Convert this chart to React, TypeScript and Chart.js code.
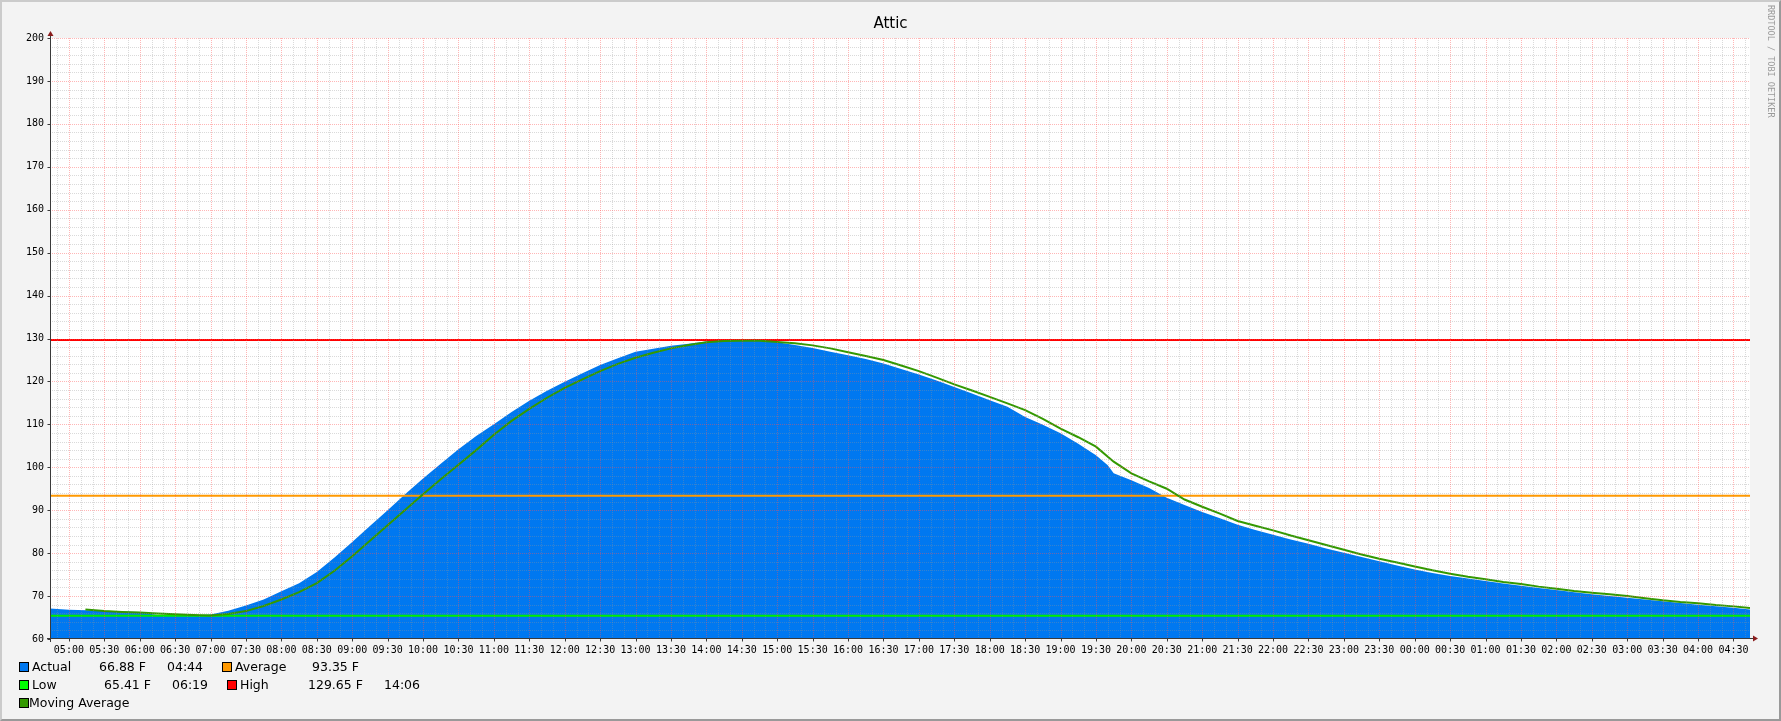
import React, { useEffect, useRef } from "react";
import { Chart, registerables } from "chart.js";

Chart.register(...registerables);

// ---------- data ----------
const actualTimes = [
  "04:44", "05:00", "05:15", "05:30", "05:45", "06:00", "06:15", "06:19", "06:30", "06:45",
  "07:00", "07:15", "07:30", "07:45", "08:00", "08:15", "08:30", "08:45", "09:00", "09:15",
  "09:30", "09:45", "10:00", "10:15", "10:30", "10:45", "11:00", "11:15", "11:30", "11:45",
  "12:00", "12:15", "12:30", "12:45", "13:00", "13:15", "13:30", "13:45", "14:00", "14:06",
  "14:15", "14:30", "14:45", "15:00", "15:15", "15:30", "15:45", "16:00", "16:15", "16:30",
  "16:45", "17:00", "17:15", "17:30", "17:45", "18:00", "18:15", "18:30", "18:45", "19:00",
  "19:15", "19:30", "19:40", "19:45", "20:00", "20:15", "20:30", "20:45", "21:00", "21:15",
  "21:30", "21:45", "22:00", "22:15", "22:30", "22:45", "23:00", "23:15", "23:30", "23:45",
  "00:00", "00:15", "00:30", "00:45", "01:00", "01:15", "01:30", "01:45", "02:00", "02:15",
  "02:30", "02:45", "03:00", "03:15", "03:30", "03:45", "04:00", "04:15", "04:30", "04:44",
];
const actualValues = [
  67.1, 66.8, 66.7, 66.6, 66.4, 66.3, 65.6, 65.41, 65.5, 65.5,
  65.7, 66.6, 67.8, 69.2, 71.1, 73.0, 75.6, 79.0, 82.6, 86.3,
  90.0, 93.8, 97.4, 100.8, 104.2, 107.3, 110.0, 112.9, 115.5, 117.8,
  119.9, 121.9, 123.8, 125.4, 126.9, 127.6, 128.3, 128.8, 129.3, 129.65,
  129.6, 129.5, 129.4, 129.1, 128.5, 127.8, 126.9, 126.1, 125.2, 124.2,
  122.9, 121.6, 120.2, 118.7, 117.2, 115.6, 114.1, 111.7, 109.9, 107.9,
  105.5, 102.8, 100.5, 98.6, 97.0, 95.2, 92.9, 91.2, 89.6, 88.1,
  86.6, 85.4, 84.3, 83.2, 82.2, 81.1, 80.1, 79.1, 78.1, 77.1,
  76.2, 75.4, 74.7, 74.1, 73.5, 72.9, 72.4, 71.9, 71.4, 70.9,
  70.4, 70.0, 69.6, 69.2, 68.8, 68.4, 68.0, 67.6, 67.3, 66.88,
];

const maTimes = [
  "05:14", "05:30", "05:45", "06:00", "06:15", "06:30", "06:45", "07:00", "07:15", "07:30",
  "07:45", "08:00", "08:15", "08:30", "08:45", "09:00", "09:15", "09:30", "09:45", "10:00",
  "10:15", "10:30", "10:45", "11:00", "11:15", "11:30", "11:45", "12:00", "12:15", "12:30",
  "12:45", "13:00", "13:15", "13:30", "13:45", "14:00", "14:15", "14:30", "14:45", "15:00",
  "15:15", "15:30", "15:45", "16:00", "16:15", "16:30", "16:45", "17:00", "17:15", "17:30",
  "17:45", "18:00", "18:15", "18:30", "18:45", "19:00", "19:15", "19:30", "19:45", "20:00",
  "20:15", "20:30", "20:45", "21:00", "21:15", "21:30", "21:45", "22:00", "22:15", "22:30",
  "22:45", "23:00", "23:15", "23:30", "23:45", "00:00", "00:15", "00:30", "00:45", "01:00",
  "01:15", "01:30", "01:45", "02:00", "02:15", "02:30", "02:45", "03:00", "03:15", "03:30",
  "03:45", "04:00", "04:15", "04:30", "04:44",
];
const maValues = [
  66.85, 66.5, 66.3, 66.15, 65.95, 65.75, 65.6, 65.5, 65.8, 66.5,
  67.7, 69.2, 70.9, 73.0, 75.9, 79.3, 82.9, 86.5, 90.1, 93.7,
  97.2, 100.6, 104.0, 107.6, 110.8, 113.6, 116.2, 118.5, 120.5, 122.4,
  124.1, 125.5, 126.7, 127.7, 128.5, 129.1, 129.4, 129.5, 129.5, 129.2,
  128.9, 128.4, 127.7, 126.8, 125.9, 125.0, 123.7, 122.4, 120.9, 119.3,
  117.9, 116.4, 114.9, 113.3, 111.3, 109.0, 107.0, 104.8, 101.3, 98.6,
  96.7, 95.0, 92.5, 90.8, 89.2, 87.5, 86.4, 85.3, 84.1, 83.0,
  81.9, 80.8, 79.7, 78.7, 77.8, 76.9, 76.0, 75.2, 74.5, 73.9,
  73.3, 72.8, 72.2, 71.7, 71.2, 70.8, 70.4, 70.0, 69.5, 69.0,
  68.6, 68.3, 67.9, 67.6, 67.2,
];

const xTickLabels = [
  "05:00", "05:30", "06:00", "06:30", "07:00", "07:30", "08:00", "08:30", "09:00", "09:30",
  "10:00", "10:30", "11:00", "11:30", "12:00", "12:30", "13:00", "13:30", "14:00", "14:30",
  "15:00", "15:30", "16:00", "16:30", "17:00", "17:30", "18:00", "18:30", "19:00", "19:30",
  "20:00", "20:30", "21:00", "21:30", "22:00", "22:30", "23:00", "23:30", "00:00", "00:30",
  "01:00", "01:30", "02:00", "02:30", "03:00", "03:30", "04:00", "04:30",
];
const yTickValues = [60, 70, 80, 90, 100, 110, 120, 130, 140, 150, 160, 170, 180, 190, 200];

const LOW_VALUE = 65.41;
const AVERAGE_VALUE = 93.35;
const HIGH_VALUE = 129.65;

const TITLE = "Attic";
const CREDIT = "RRDTOOL / TOBI OETIKER";

// ---------- helpers ----------
function toMinutes(times: string[]): number[] {
  const out: number[] = [];
  let offset = 0;
  let prev = -Infinity;
  for (const t of times) {
    const [h, m] = t.split(":").map(Number);
    let v = h * 60 + m + offset;
    if (v < prev) {
      offset += 1440;
      v += 1440;
    }
    out.push(v);
    prev = v;
  }
  return out;
}

const actualX = toMinutes(actualTimes);
const X_MIN = actualX[0];
const X_MAX = actualX[actualX.length - 1];
const maX = toMinutes(maTimes);
const xTickMinutes = toMinutes(xTickLabels);

const BLUE = "rgb(0,120,240)";
const ORANGE = "#FF9900";
const LOWC = "#00EE00";
const REDC = "#FF0000";
const MAC = "#339900";

const decorPlugin = {
  id: "rrdDecor",
  beforeDatasetsDraw(chart: any) {
    const { ctx, chartArea: a } = chart;
    ctx.save();
    ctx.fillStyle = "#FFFFFF";
    ctx.fillRect(a.left, a.top, a.right - a.left, a.bottom - a.top);
    ctx.restore();
  },
  afterDatasetsDraw(chart: any) {
    const { ctx, chartArea: a } = chart;
    const xs = chart.scales.x;
    const ys = chart.scales.y;
    ctx.save();
    ctx.lineWidth = 1;
    ctx.setLineDash([1, 1]);
    // minor grid
    ctx.strokeStyle = "rgba(150,150,150,0.35)";
    ctx.beginPath();
    for (let v = Math.ceil(X_MIN / 10) * 10; v <= X_MAX; v += 10) {
      if (v % 30 === 0) continue;
      const px = Math.round(xs.getPixelForValue(v)) + 0.5;
      ctx.moveTo(px, a.bottom);
      ctx.lineTo(px, a.top);
    }
    for (let v = 62; v < 200; v += 2) {
      if (v % 10 === 0) continue;
      const py = Math.round(ys.getPixelForValue(v)) + 0.5;
      ctx.moveTo(a.left, py);
      ctx.lineTo(a.right, py);
    }
    ctx.stroke();
    // major grid
    ctx.strokeStyle = "rgba(255,80,80,0.42)";
    ctx.beginPath();
    for (const v of xTickMinutes) {
      const px = Math.round(xs.getPixelForValue(v)) + 0.5;
      ctx.moveTo(px, a.bottom);
      ctx.lineTo(px, a.top);
    }
    for (const v of yTickValues) {
      if (v === 60) continue;
      const py = Math.round(ys.getPixelForValue(v)) + 0.5;
      ctx.moveTo(a.left, py);
      ctx.lineTo(a.right, py);
    }
    ctx.stroke();
    ctx.setLineDash([]);
    ctx.restore();
  },
  afterDraw(chart: any) {
    const { ctx, chartArea: a } = chart;
    const xs = chart.scales.x;
    const ys = chart.scales.y;
    ctx.save();
    const axisX = Math.round(a.left) + 0.5;
    const axisY = Math.round(a.bottom) - 0.5;
    ctx.strokeStyle = "#3a3a3a";
    ctx.lineWidth = 1;
    ctx.beginPath();
    ctx.moveTo(axisX, a.bottom + 3);
    ctx.lineTo(axisX, a.top - 4);
    ctx.moveTo(a.left - 3, axisY);
    ctx.lineTo(a.right + 4, axisY);
    for (const v of xTickMinutes) {
      const px = Math.round(xs.getPixelForValue(v)) + 0.5;
      ctx.moveTo(px, axisY);
      ctx.lineTo(px, axisY + 3);
    }
    for (const v of yTickValues) {
      const py = Math.round(ys.getPixelForValue(v)) + 0.5;
      ctx.moveTo(axisX - 3, py);
      ctx.lineTo(axisX, py);
    }
    ctx.stroke();
    ctx.fillStyle = "#8a1c1c";
    ctx.beginPath();
    ctx.moveTo(axisX, a.top - 7);
    ctx.lineTo(axisX - 3, a.top - 2);
    ctx.lineTo(axisX + 3, a.top - 2);
    ctx.closePath();
    ctx.fill();
    ctx.beginPath();
    ctx.moveTo(a.right + 8, axisY);
    ctx.lineTo(a.right + 3, axisY - 3);
    ctx.lineTo(a.right + 3, axisY + 3);
    ctx.closePath();
    ctx.fill();
    ctx.restore();
  },
};

const legendFont: React.CSSProperties = {
  position: "absolute",
  fontFamily: "'DejaVu Sans', sans-serif",
  fontSize: "12.5px",
  lineHeight: "15px",
  color: "#000",
  whiteSpace: "pre",
};

type LegendItem = { color?: string; text?: string; x: number; row: number };
const legendRowTop = [659, 677, 695];
const legendItems: LegendItem[] = [
  { color: BLUE, x: 19, row: 0 },
  { text: "Actual", x: 32, row: 0 },
  { text: "66.88 F", x: 99, row: 0 },
  { text: "04:44", x: 167, row: 0 },
  { color: ORANGE, x: 222, row: 0 },
  { text: "Average", x: 235, row: 0 },
  { text: "93.35 F", x: 312, row: 0 },
  { color: "#00FF00", x: 19, row: 1 },
  { text: "Low", x: 32, row: 1 },
  { text: "65.41 F", x: 104, row: 1 },
  { text: "06:19", x: 172, row: 1 },
  { color: REDC, x: 227, row: 1 },
  { text: "High", x: 240, row: 1 },
  { text: "129.65 F", x: 308, row: 1 },
  { text: "14:06", x: 384, row: 1 },
  { color: MAC, x: 19, row: 2 },
  { text: "Moving Average", x: 29, row: 2 },
];

export default function App() {
  const canvasRef = useRef<HTMLCanvasElement | null>(null);

  useEffect(() => {
    document.body.style.margin = "0";
    const canvas = canvasRef.current;
    if (!canvas) return;
    const line = (y: number) => [
      { x: X_MIN, y },
      { x: X_MAX, y },
    ];
    const chart = new Chart(canvas, {
      type: "line",
      data: {
        datasets: [
          {
            label: "Actual",
            data: actualX.map((x, i) => ({ x, y: actualValues[i] })),
            fill: "start",
            backgroundColor: BLUE,
            borderColor: BLUE,
            borderWidth: 0,
            pointRadius: 0,
            tension: 0,
            order: 5,
          },
          {
            label: "Average",
            data: line(AVERAGE_VALUE),
            borderColor: ORANGE,
            borderWidth: 2,
            pointRadius: 0,
            fill: false,
            order: 4,
          },
          {
            label: "Low",
            data: line(LOW_VALUE),
            borderColor: LOWC,
            borderWidth: 2,
            pointRadius: 0,
            fill: false,
            order: 3,
          },
          {
            label: "High",
            data: line(HIGH_VALUE),
            borderColor: REDC,
            borderWidth: 2,
            pointRadius: 0,
            fill: false,
            order: 2,
          },
          {
            label: "Moving Average",
            data: maX.map((x, i) => ({ x, y: maValues[i] })),
            borderColor: MAC,
            borderWidth: 2,
            pointRadius: 0,
            fill: false,
            tension: 0,
            order: 1,
          },
        ],
      },
      options: {
        animation: false,
        responsive: false,
        devicePixelRatio: 1,
        layout: { padding: { left: 0, right: 0, top: 0, bottom: 0 } },
        plugins: {
          legend: { display: false },
          tooltip: { enabled: false },
          title: {
            display: true,
            text: TITLE,
            color: "#000",
            font: { family: "'DejaVu Sans', sans-serif", size: 15, weight: "normal" },
            padding: { top: 15, bottom: 5 },
          },
        },
        scales: {
          x: {
            type: "linear",
            min: X_MIN,
            max: X_MAX,
            grid: { display: false, drawTicks: false },
            border: { display: false },
            afterBuildTicks: (s: any) => {
              s.ticks = xTickMinutes.map((v) => ({ value: v }));
            },
            afterFit: (s: any) => {
              s.height = 82;
            },
            ticks: {
              autoSkip: false,
              maxRotation: 0,
              minRotation: 0,
              padding: 5,
              color: "#000",
              font: { family: "'DejaVu Sans Mono', monospace", size: 10 },
              callback: (_v: any, i: number) => xTickLabels[i],
            },
          },
          y: {
            type: "linear",
            min: 60,
            max: 200,
            grid: { display: false, drawTicks: false },
            border: { display: false },
            afterBuildTicks: (s: any) => {
              s.ticks = yTickValues.map((v) => ({ value: v }));
            },
            afterFit: (s: any) => {
              s.width = 50;
            },
            ticks: {
              padding: 6,
              color: "#000",
              font: { family: "'DejaVu Sans Mono', monospace", size: 10 },
              callback: (v: any) => String(v),
            },
          },
          yRight: {
            type: "linear",
            position: "right",
            min: 60,
            max: 200,
            grid: { display: false, drawTicks: false },
            border: { display: false },
            ticks: { display: false },
            afterFit: (s: any) => {
              s.width = 31;
            },
          },
        },
      },
      plugins: [decorPlugin],
    } as any);
    return () => chart.destroy();
  }, []);

  return (
    <div
      style={{
        position: "relative",
        width: 1781,
        height: 721,
        background: "#F3F3F3",
        overflow: "hidden",
      }}
    >
      <canvas
        ref={canvasRef}
        width={1781}
        height={721}
        style={{ position: "absolute", left: 0, top: 0, width: 1781, height: 721 }}
      />
      <div
        style={{
          position: "absolute",
          left: 1766,
          top: 5,
          writingMode: "vertical-rl",
          fontFamily: "'DejaVu Sans Mono', monospace",
          fontSize: "8.5px",
          lineHeight: "10px",
          color: "#9a9a9a",
          whiteSpace: "pre",
        }}
      >
        {CREDIT}
      </div>
      {legendItems.map((it, i) =>
        it.color ? (
          <div
            key={i}
            style={{
              position: "absolute",
              left: it.x,
              top: legendRowTop[it.row] + 3,
              width: 10,
              height: 10,
              boxSizing: "border-box",
              border: "1px solid #000",
              background: it.color,
            }}
          />
        ) : (
          <div key={i} style={{ ...legendFont, left: it.x, top: legendRowTop[it.row] }}>
            {it.text}
          </div>
        )
      )}
      <div
        style={{
          position: "absolute",
          inset: 0,
          boxSizing: "border-box",
          borderStyle: "solid",
          borderWidth: 2,
          borderTopColor: "#CBCBCB",
          borderLeftColor: "#CBCBCB",
          borderBottomColor: "#999999",
          borderRightColor: "#999999",
          pointerEvents: "none",
        }}
      />
    </div>
  );
}
